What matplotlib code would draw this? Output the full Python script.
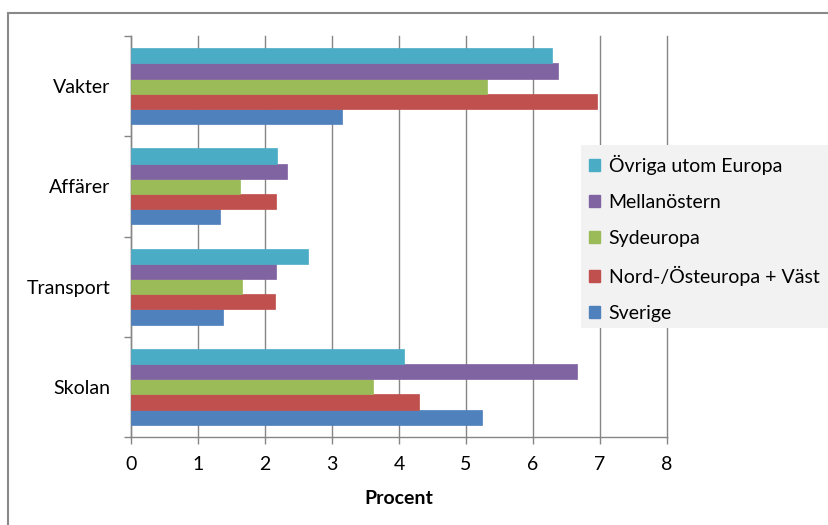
import matplotlib
matplotlib.use("Agg")
import matplotlib.pyplot as plt
from matplotlib.patches import Rectangle, Patch
import numpy as np

plt.rcParams['font.family'] = ['Lato', 'DejaVu Sans']

categories = ["Skolan", "Transport", "Affärer", "Vakter"]
series_names = ["Sverige", "Nord-/Östeuropa + Väst", "Sydeuropa", "Mellanöstern", "Övriga utom Europa"]
sverige = [5.24, 1.37, 1.33, 3.15]
nord_oste = [4.30, 2.15, 2.16, 6.95]
sydeuropa = [3.61, 1.65, 1.63, 5.31]
mellanostern = [6.65, 2.16, 2.33, 6.37]
ovriga = [4.07, 2.64, 2.18, 6.28]
xticks = [0, 1, 2, 3, 4, 5, 6, 7, 8]

values = [sverige, nord_oste, sydeuropa, mellanostern, ovriga]
colors = ["#4F81BD", "#C0504D", "#9BBB59", "#8064A2", "#4BACC6"]

W, H = 829, 525
fig = plt.figure(figsize=(W / 100, H / 100), dpi=100)
ax = fig.add_axes([131 / W, 1 - 437 / H, (667 - 131) / W, (437 - 36) / H])

y = np.arange(len(categories))
bh = 0.152
for i, (vals, c) in enumerate(zip(values, colors)):
    ax.barh(y + (i - 2) * bh, vals, height=bh, color=c, edgecolor=c,
            linewidth=0.5, zorder=3)

grid_c = "#868686"
ax.set_xlim(0, 8)
ax.set_ylim(-0.5, 3.5)
ax.set_xticks(xticks)
ax.set_xticklabels([str(t) for t in xticks])
ax.xaxis.grid(True, color=grid_c, linewidth=1.0, zorder=0)
for gl in ax.get_xgridlines():
    gl.set_clip_on(False)
ax.set_axisbelow(True)
ax.set_yticks(y)
ax.set_yticklabels(categories)
ax.set_yticks(np.arange(-0.5, 4.0, 1.0), minor=True)
ax.tick_params(axis='y', which='major', length=0, pad=15, labelsize=14)
ax.tick_params(axis='y', which='minor', length=5, color=grid_c, width=1.0)
ax.tick_params(axis='x', which='major', length=5, color=grid_c, width=1.0,
               labelsize=14, pad=9)
for s in ['top', 'right']:
    ax.spines[s].set_visible(False)
for s in ['left', 'bottom']:
    ax.spines[s].set_color(grid_c)
    ax.spines[s].set_linewidth(1.0)
ax.set_xlabel("Procent", fontsize=14, fontweight='bold', labelpad=12)

# outer frame
fig.patches.append(Rectangle((8 / W, -0.05), 1.0, 1 - 13 / H + 0.05,
                             transform=fig.transFigure, fill=False,
                             edgecolor="#898989", linewidth=1.5))
# legend background
fig.patches.append(Rectangle((581 / W, 1 - 328 / H), (W - 581) / W + 0.01,
                             (328 - 145) / H, transform=fig.transFigure,
                             facecolor="#F2F2F2", edgecolor="none"))

handles = [Patch(facecolor=c, edgecolor=c) for c in colors][::-1]
labels = series_names[::-1]
fig.legend(handles, labels, loc='upper left', bbox_to_anchor=(585 / W, 1 - 151 / H),
           frameon=False, fontsize=14, handlelength=0.57, handleheight=0.57,
           handletextpad=0.45, labelspacing=0.97, borderaxespad=0, borderpad=0.2)

fig.savefig("out.png", dpi=100)
